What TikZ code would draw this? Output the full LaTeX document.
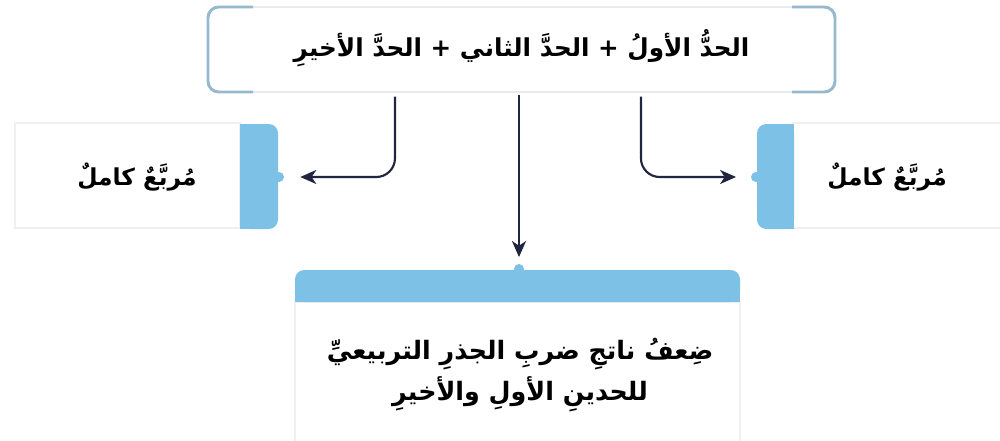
\documentclass[tikz,border=0pt]{standalone}
\usepackage{fontspec}
\newfontfamily\arabicfont[Script=Arabic]{DejaVu Sans}
\TeXXeTstate=1
\usetikzlibrary{arrows.meta}
\definecolor{barblue}{RGB}{126,193,231}
\definecolor{frameblue}{RGB}{150,185,208}
\definecolor{framegray}{RGB}{218,225,230}
\definecolor{arrowcol}{RGB}{34,37,62}
\definecolor{boxline}{RGB}{240,240,240}
\begin{document}
\begin{tikzpicture}[x=0.75pt,y=-0.75pt,
  arr/.style={draw=arrowcol, line width=1.6pt, -{Stealth[length=12pt,width=10.5pt,inset=3.5pt]}},
  bump/.style={circle, fill=barblue, minimum size=7.5pt, inner sep=0pt},
  txt/.style={text=black, inner sep=0pt},
  wbox/.style={draw=boxline, fill=white, line width=0.8pt},
  bracket/.style={draw=frameblue, line width=2.2pt, rounded corners=8pt},
]
\useasboundingbox (0,0) rectangle (1000,440);
\fill[white] (0,0) rectangle (1000,440);

% white boxes
\draw[wbox] (15,123) rectangle (240,228);
\draw[wbox] (793,123) rectangle (1010,228);
\draw[wbox] (295,302) rectangle (740,445);

% top frame
\node[draw=framegray, line width=1pt, fill=white, rounded corners=9pt,
      minimum width=470.25pt, minimum height=63.75pt, inner sep=0pt] (topbox) at (521.5,49.5) {};
\draw[bracket] (253,7) -| (208,92) -- (253,92);
\draw[bracket] (792,7) -| (835,92) -- (792,92);
\node[txt, font=\arabicfont\bfseries\fontsize{18.5}{22}\selectfont] (toptext) at ([yshift=1pt]topbox.center)
  {\beginR الحدُّ الأولُ + الحدَّ الثاني + الحدَّ الأخيرِ\endR};

% left bar
\node[bump] (lbump) at (279,177) {};
\fill[barblue, rounded corners=7pt] (240,124) rectangle (278,229);
\fill[barblue] (240,124) rectangle (260,229);

% right bar
\node[bump] (rbump) at (756,177) {};
\fill[barblue, rounded corners=7pt] (757,124) rectangle (794,229);
\fill[barblue] (775,124) rectangle (794,229);

% bottom bar
\node[bump] (bbump) at (519,269) {};
\fill[barblue, rounded corners=7pt] (295,270) rectangle (740,302);
\fill[barblue] (295,286) rectangle (740,302);

% texts
\node[txt, font=\arabicfont\bfseries\fontsize{17.5}{20}\selectfont] (ltext) at (137,177)
  {\beginR مُربَّعٌ كاملٌ\endR};
\node[txt, font=\arabicfont\bfseries\fontsize{17.5}{20}\selectfont] (rtext) at (887,177)
  {\beginR مُربَّعٌ كاملٌ\endR};
\node[txt, align=center, font=\arabicfont\bfseries\fontsize{19}{31}\selectfont] (btext) at (520,375)
  {\beginR ضِعفُ ناتجِ ضربِ الجذرِ التربيعيِّ\endR\\\beginR للحدينِ الأولِ والأخيرِ\endR};

% arrows
\draw[arr, rounded corners=14pt] ([xshift=-94.9pt,yshift=-3pt]topbox.south) |- ([xshift=12pt]lbump.east);
\draw[arr, rounded corners=14pt] ([xshift=89.6pt,yshift=-3pt]topbox.south) |- ([xshift=-11pt]rbump.west);
\draw[arr] (topbox.south -| bbump.north) ++(0,2) -- ([yshift=5pt]bbump.north);
\end{tikzpicture}
\end{document}
